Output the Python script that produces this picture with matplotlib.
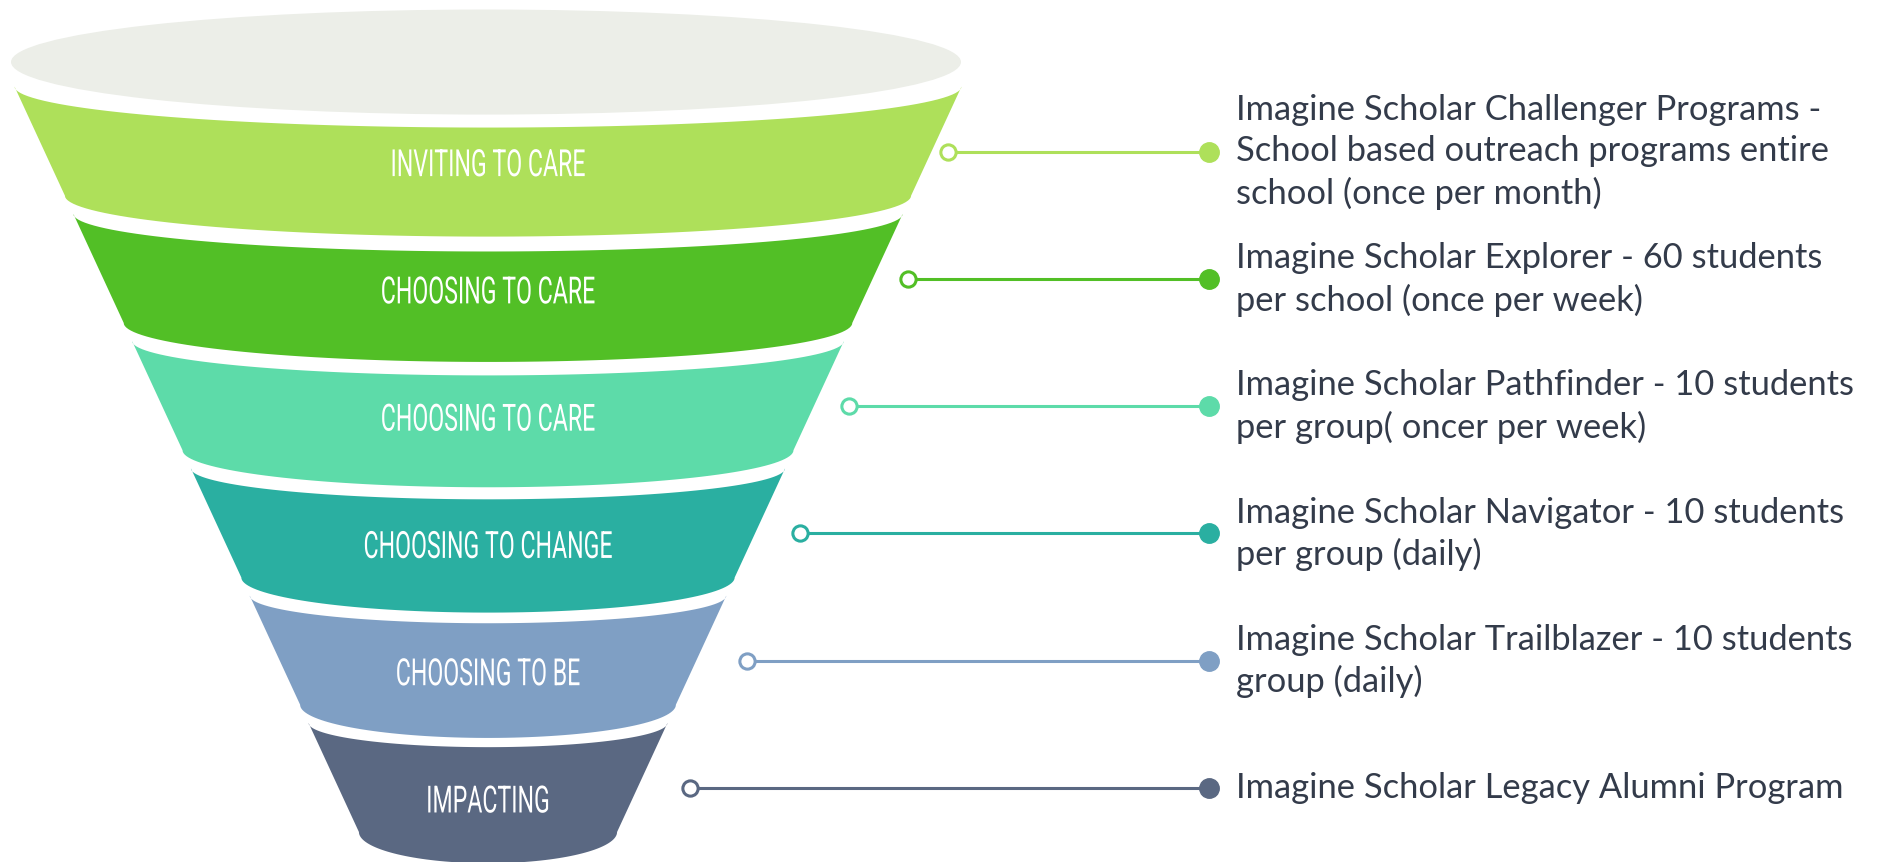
import numpy as np
import matplotlib
matplotlib.use('Agg')
import matplotlib.pyplot as plt
from matplotlib import font_manager as fm
from matplotlib.patches import Ellipse, Polygon
from matplotlib.patheffects import AbstractPathEffect
from matplotlib.transforms import Affine2D

# data
stages = ['Inviting to Care', 'Choosing to Care', 'Choosing to Care',
          'Choosing to Change', 'Choosing to Be', 'Impacting']
programs = [
    'Imagine Scholar Challenger Programs -\nSchool based outreach programs entire\nschool (once per month)',
    'Imagine Scholar Explorer - 60 students\nper school (once per week)',
    'Imagine Scholar Pathfinder - 10 students\nper group( oncer per week)',
    'Imagine Scholar Navigator - 10 students\nper group (daily)',
    'Imagine Scholar Trailblazer - 10 students\ngroup (daily)',
    'Imagine Scholar Legacy Alumni Program',
]
colors = ['#AEE05A', '#52BF26', '#5DDBA9', '#2AAFA1', '#7F9FC4', '#5A6882']
hollow_x = [948, 908, 849, 800, 747, 690]   # where each connector starts


class Squeeze(AbstractPathEffect):
    # narrows the drawn glyphs around x0 (the stage font is very condensed)
    def __init__(self, sx, x0):
        super().__init__()
        self.sx = sx
        self.x0 = x0

    def draw_path(self, renderer, gc, tpath, affine, rgbFace=None):
        aff = affine + Affine2D().translate(-self.x0, 0).scale(self.sx, 1).translate(self.x0, 0)
        renderer.draw_path(gc, tpath, aff, rgbFace)


W, H = 1894, 862
fig = plt.figure(figsize=(W / 100, 8.625), dpi=100)
ax = fig.add_axes([0, 0, 1, 1])
ax.set_xlim(0, W)
ax.set_ylim(H, 0)
ax.axis('off')

names = {f.name for f in fm.fontManager.ttflist}
label_family = 'Roboto' if 'Roboto' in names else 'DejaVu Sans'
side_font = 'Lato' if 'Lato' in names else 'DejaVu Sans'

# funnel geometry (pixels)
cx = 488
top0 = 87
step = 127.2
band_h = 109


def half_w(y):
    return 473.5 - 0.4623 * (y - top0)


def arc(y, hw, dip, reverse=False):
    t = np.linspace(np.pi, 2 * np.pi, 80)
    xs = cx + hw * np.cos(t)
    ys = y - dip * np.sin(t)
    pts = np.column_stack([xs, ys])
    return pts[::-1] if reverse else pts


# rim of the funnel
ax.add_patch(Ellipse((486, 62.5), 950, 105, facecolor='#ECEEE8', edgecolor='none'))

labels = []
for i, (stage, col) in enumerate(zip(stages, colors)):
    yt = top0 + step * i
    yb = yt + band_h
    hwt, hwb = half_w(yt), half_w(yb)
    top = arc(yt, hwt, 14 + 0.057 * hwt)
    bot = arc(yb, hwb, 27 + 0.033 * hwb, reverse=True)
    ax.add_patch(Polygon(np.vstack([top, bot]), closed=True, facecolor=col, edgecolor='none'))
    t = ax.text(cx, yt + 79, stage.upper(), color='white', ha='center', va='center',
                family=label_family, weight='normal', size=27)
    labels.append(t)

    # connector
    yc = 152 + step * i
    ax.plot([hollow_x[i], 1209], [yc, yc], color=col, lw=2.2, solid_capstyle='butt', zorder=3)
    ax.plot(hollow_x[i], yc, 'o', ms=11, mfc='white', mec=col, mew=2.2, zorder=4)
    ax.plot(1209, yc, 'o', ms=14, mfc=col, mec=col, zorder=4)
    ax.text(1236, yc, programs[i], color='#333B4A', fontsize=24.8, family=side_font,
            ha='left', va='center', linespacing=1.34)

# squeeze stage labels so the first one is ~195 px wide like the original
fig.canvas.draw()
w0 = labels[0].get_window_extent().width
sx = 195 / w0
for t in labels:
    t.set_path_effects([Squeeze(sx, cx)])

fig.savefig('out.png', dpi=100, facecolor='white')
